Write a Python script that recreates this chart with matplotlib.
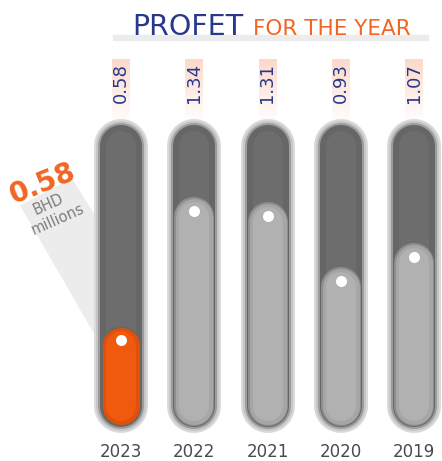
import matplotlib.pyplot as plt
from matplotlib.patches import Polygon, Ellipse, Rectangle

years = ["2023", "2022", "2021", "2020", "2019"]
values = [0.58, 1.34, 1.31, 0.93, 1.07]
unit_top = "BHD"
unit_bottom = "millions"

blue = "#28388a"
orange = "#f26522"
plt.rcParams["font.family"] = ["DejaVu Sans"]

# scala: 73.25 px per colonna, 170 px per unita
XPX = 73.25
YPX = 170.0
PT = 0.72  # punti per pixel a dpi 100

fig = plt.figure(figsize=(4.42, 4.61), dpi=100)
ax = fig.add_axes([0, 0, 1, 1])
ax.set_xlim(-121 / XPX, (442 - 121) / XPX)
ax.set_ylim(-36 / YPX, (461 - 36) / YPX)
ax.axis("off")

x = list(range(len(values)))
cap_top = 1.64
cap_bot = 0.11

# ombra del valore evidenziato
x0, v0 = x[0], values[0]
wedge = Polygon([(x0 - 101 / XPX, v0 + 121 / YPX),
                 (x0 - 49 / XPX, v0 + 148 / YPX),
                 (x0 - 26 / XPX, v0 + 111 / YPX),
                 (x0 - 26 / XPX, v0 - 9 / YPX)],
                closed=True, facecolor="#ececec", edgecolor="none", zorder=1)
ax.add_patch(wedge)

for i, v in zip(x, values):
    # ombra sotto il tubo
    ax.add_patch(Ellipse((i, -48 / YPX), 64 / XPX, 10 / YPX, color="#e8e8e8", zorder=1))
    # tubo esterno
    for w, c in [(54, "#dadada"), (50, "#c6c6c6"), (46, "#9c9c9c"), (42, "#666666"), (30, "#6d6d6d")]:
        ax.plot([i, i], [cap_bot, cap_top], lw=w * PT, color=c,
                solid_capstyle="round", zorder=2)
    # liquido
    r = 20 / YPX
    if i == 0:
        layers = [(40, "#6e6660"), (37, "#e24f0b"), (30, "#f05a0e")]
    else:
        layers = [(40, "#8e8e8e"), (37, "#a6a6a6"), (30, "#b1b1b1")]
    for w, c in layers:
        ax.plot([i, i], [cap_bot, v - r], lw=w * PT, color=c,
                solid_capstyle="round", zorder=3)
    ax.plot(i, v - 14 / YPX, "o", ms=11 * PT, color="white", mec="none", zorder=4)

    # fascia rosa dietro il valore
    n = 24
    top = 2.15
    bot = 1.78
    h = (top - bot) / n
    for k in range(n):
        a = 0.85 * (k + 1) / n
        ax.bar(i, h, bottom=bot + k * h, width=18 / XPX, color="#fcd3c3",
               alpha=a, linewidth=0, zorder=1)
    ax.text(i, 2.01, f"{v:.2f}", rotation=90, ha="center", va="center",
            color=blue, fontsize=13, zorder=5)

    ax.text(i, -0.19, years[i], ha="center", va="baseline",
            color="#4a4a4a", fontsize=12)

# annotazione del primo valore
ax.text(x0 - 78 / XPX, v0 + 143 / YPX, f"{v0:.2f}", rotation=22, ha="center",
        va="center", color=orange, fontsize=20, fontweight="bold", zorder=5)
ax.text(x0 - 73 / XPX, v0 + 122 / YPX, unit_top, rotation=24, ha="center",
        va="center", color="#7d7d7d", fontsize=10.5, zorder=5)
ax.text(x0 - 63 / XPX, v0 + 107 / YPX, unit_bottom, rotation=24, ha="center",
        va="center", color="#7d7d7d", fontsize=10.5, zorder=5)

# titolo
fig.patches.append(Rectangle((113 / 442, 1 - 40 / 461), 315 / 442, 5 / 461,
                             transform=fig.transFigure, color="#ececec", zorder=0))
fig.text(243 / 442, 1 - 35 / 461, "PROFET", ha="right", va="baseline",
         color=blue, fontsize=20.5)
fig.text(253 / 442, 1 - 35 / 461, "FOR THE YEAR", ha="left", va="baseline",
         color=orange, fontsize=15.5)

plt.savefig("out.png", dpi=100)
